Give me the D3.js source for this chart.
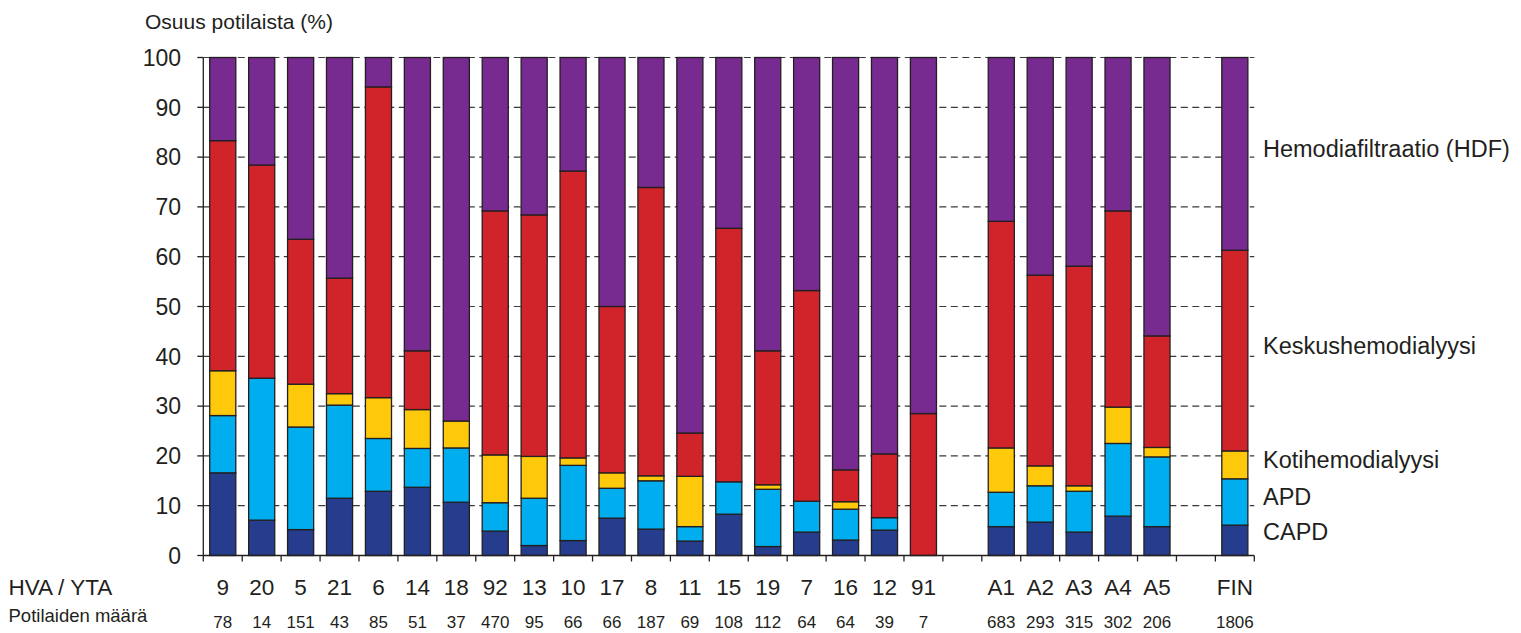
<!DOCTYPE html>
<html>
<head>
<meta charset="utf-8">
<script src="https://cdn.jsdelivr.net/npm/d3@7"></script>
<style>
  html, body { margin: 0; padding: 0; background: #ffffff; }
  svg { display: block; }
</style>
</head>
<body>
<div id="chart"></div>
<script>
// ---------- data ----------
const categories = ["9", "20", "5", "21", "6", "14", "18", "92", "13", "10", "17", "8", "11", "15", "19", "7", "16", "12", "91",
                    "A1", "A2", "A3", "A4", "A5", "FIN"];
const patientCounts = [78, 14, 151, 43, 85, 51, 37, 470, 95, 66, 66, 187, 69, 108, 112, 64, 64, 39, 7,
                       683, 293, 315, 302, 206, 1806];
// an empty slot follows these categories
const gapAfter = ["91", "A5"];

// shares (%) per treatment, bottom to top
const capd   = [16.6, 7.1, 5.2, 11.5, 12.9, 13.7, 10.7, 4.9, 2.0, 3.0, 7.5, 5.3, 2.9, 8.3, 1.8, 4.7, 3.1, 5.1, 0,
                5.8, 6.7, 4.7, 7.9, 5.8, 6.1];
const apd    = [11.5, 28.5, 20.6, 18.7, 10.6, 7.8, 10.9, 5.7, 9.5, 15.1, 6.0, 9.7, 2.9, 6.5, 11.5, 6.2, 6.2, 2.5, 0,
                6.9, 7.3, 8.2, 14.6, 14.0, 9.3];
const koti   = [9.0, 0, 8.6, 2.3, 8.2, 7.8, 5.4, 9.6, 8.4, 1.5, 3.1, 1.0, 10.1, 0, 0.9, 0, 1.5, 0, 0,
                8.9, 4.0, 1.1, 7.3, 1.9, 5.6];
const keskus = [46.2, 42.8, 29.1, 23.2, 62.4, 11.8, 0, 49.0, 48.5, 57.6, 33.4, 57.9, 8.7, 50.9, 26.9, 42.3, 6.4, 12.8, 28.5,
                45.5, 38.3, 44.1, 39.4, 22.4, 40.3];
const hdf    = [16.7, 21.6, 36.5, 44.3, 5.9, 58.9, 73.0, 30.8, 31.6, 22.8, 50.0, 26.1, 75.4, 34.3, 58.9, 46.8, 82.8, 79.6, 71.5,
                32.9, 43.7, 41.9, 30.8, 55.9, 38.7];

const seriesNames = ["CAPD", "APD", "Kotihemodialyysi", "Keskushemodialyysi", "Hemodiafiltraatio (HDF)"];
const seriesColors = ["#253d8c", "#00aeef", "#ffc90b", "#d1232a", "#772a8f"];
const yTicks = [0, 10, 20, 30, 40, 50, 60, 70, 80, 90, 100];

// ---------- layout ----------
const width = 1521, height = 633;
const plot = { left: 203.3, right: 1254.3, top: 57.5, bottom: 555.5 };
const font = "'Liberation Sans', Arial, Helvetica, sans-serif";
const textColor = "#231f20";

// slot domain: every category plus empty gap slots
const slots = [];
categories.forEach(c => {
    slots.push(c);
    if (gapAfter.includes(c)) slots.push("gap-" + c);
});

const rows = categories.map((c, i) => ({
    cat: c,
    n: patientCounts[i],
    s0: capd[i], s1: apd[i], s2: koti[i], s3: keskus[i], s4: hdf[i]
}));

const svg = d3.select("#chart").append("svg")
    .attr("width", width)
    .attr("height", height)
    .attr("viewBox", `0 0 ${width} ${height}`);

const x = d3.scaleBand()
    .domain(slots)
    .range([plot.left, plot.right])
    .paddingInner(0.33)
    .paddingOuter(0.165);

const y = d3.scaleLinear()
    .domain([0, 100])
    .range([plot.bottom, plot.top]);

const step = x.step();
const slotStart = d => x(d) - step * x.paddingInner() / 2;

// ---------- grid ----------
svg.append("g")
    .selectAll("line")
    .data(yTicks.filter(t => t > 0))
    .enter()
    .append("line")
    .attr("x1", plot.left)
    .attr("x2", plot.right)
    .attr("y1", d => y(d))
    .attr("y2", d => y(d))
    .attr("stroke", "#3a3a3a")
    .attr("stroke-width", 1.2)
    .attr("stroke-dasharray", "7,4.5");

// ---------- bars ----------
const keys = ["s0", "s1", "s2", "s3", "s4"];
const stacked = d3.stack().keys(keys)(rows);

svg.append("g")
    .selectAll("g")
    .data(stacked)
    .enter()
    .append("g")
    .attr("fill", (d, i) => seriesColors[i])
    .selectAll("rect")
    .data(d => d.filter(p => p[1] - p[0] > 0))
    .enter()
    .append("rect")
    .attr("x", d => x(d.data.cat))
    .attr("width", x.bandwidth())
    .attr("y", d => y(Math.min(100, d[1])))
    .attr("height", d => y(d[0]) - y(Math.min(100, d[1])))
    .attr("stroke", "#231f20")
    .attr("stroke-width", 1.3);

// ---------- axes ----------
const axis = svg.append("g").attr("stroke", "#231f20").attr("stroke-width", 1.3);

axis.append("line")
    .attr("x1", plot.left).attr("x2", plot.left)
    .attr("y1", y(100)).attr("y2", y(0));

axis.append("line")
    .attr("x1", plot.left).attr("x2", plot.right)
    .attr("y1", y(0)).attr("y2", y(0));

axis.selectAll(".ytick")
    .data(yTicks)
    .enter()
    .append("line")
    .attr("x1", plot.left - 6).attr("x2", plot.left)
    .attr("y1", d => y(d)).attr("y2", d => y(d));

const xTickPos = slots.map(slotStart).concat([plot.right]);
axis.selectAll(".xtick")
    .data(xTickPos)
    .enter()
    .append("line")
    .attr("x1", d => d).attr("x2", d => d)
    .attr("y1", y(0)).attr("y2", y(0) + 6);

// y tick labels
svg.append("g")
    .selectAll("text")
    .data(yTicks)
    .enter()
    .append("text")
    .attr("x", 181)
    .attr("y", d => y(d))
    .attr("dy", "0.36em")
    .attr("text-anchor", "end")
    .style("font-family", font)
    .style("font-size", "23px")
    .style("fill", textColor)
    .text(d => d);

// y axis title
svg.append("text")
    .attr("x", 145)
    .attr("y", 29)
    .style("font-family", font)
    .style("font-size", "21px")
    .style("fill", textColor)
    .text("Osuus potilaista (%)");

// category labels
svg.append("g")
    .selectAll("text")
    .data(rows)
    .enter()
    .append("text")
    .attr("x", d => x(d.cat) + x.bandwidth() / 2)
    .attr("y", 594.5)
    .attr("text-anchor", "middle")
    .style("font-family", font)
    .style("font-size", "22.5px")
    .style("fill", textColor)
    .text(d => d.cat);

// patient counts
svg.append("g")
    .selectAll("text")
    .data(rows)
    .enter()
    .append("text")
    .attr("x", d => x(d.cat) + x.bandwidth() / 2)
    .attr("y", 628)
    .attr("text-anchor", "middle")
    .style("font-family", font)
    .style("font-size", "17px")
    .style("fill", textColor)
    .text(d => d.n);

svg.append("text")
    .attr("x", 8.5)
    .attr("y", 594.5)
    .style("font-family", font)
    .style("font-size", "22.5px")
    .style("fill", textColor)
    .text("HVA / YTA");

svg.append("text")
    .attr("x", 8.5)
    .attr("y", 621.5)
    .style("font-family", font)
    .style("font-size", "18.5px")
    .style("fill", textColor)
    .text("Potilaiden määrä");

// ---------- series labels next to the FIN bar ----------
const finStack = stacked.map(s => s[s.length - 1]);
svg.append("g")
    .selectAll("text")
    .data(finStack)
    .enter()
    .append("text")
    .attr("x", 1263)
    .attr("y", (d, i) => y((d[0] + d[1]) / 2) + (i === 0 ? 0 : 3))
    .style("font-family", font)
    .style("font-size", "23.5px")
    .style("fill", textColor)
    .text((d, i) => seriesNames[i]);
</script>
</body>
</html>
